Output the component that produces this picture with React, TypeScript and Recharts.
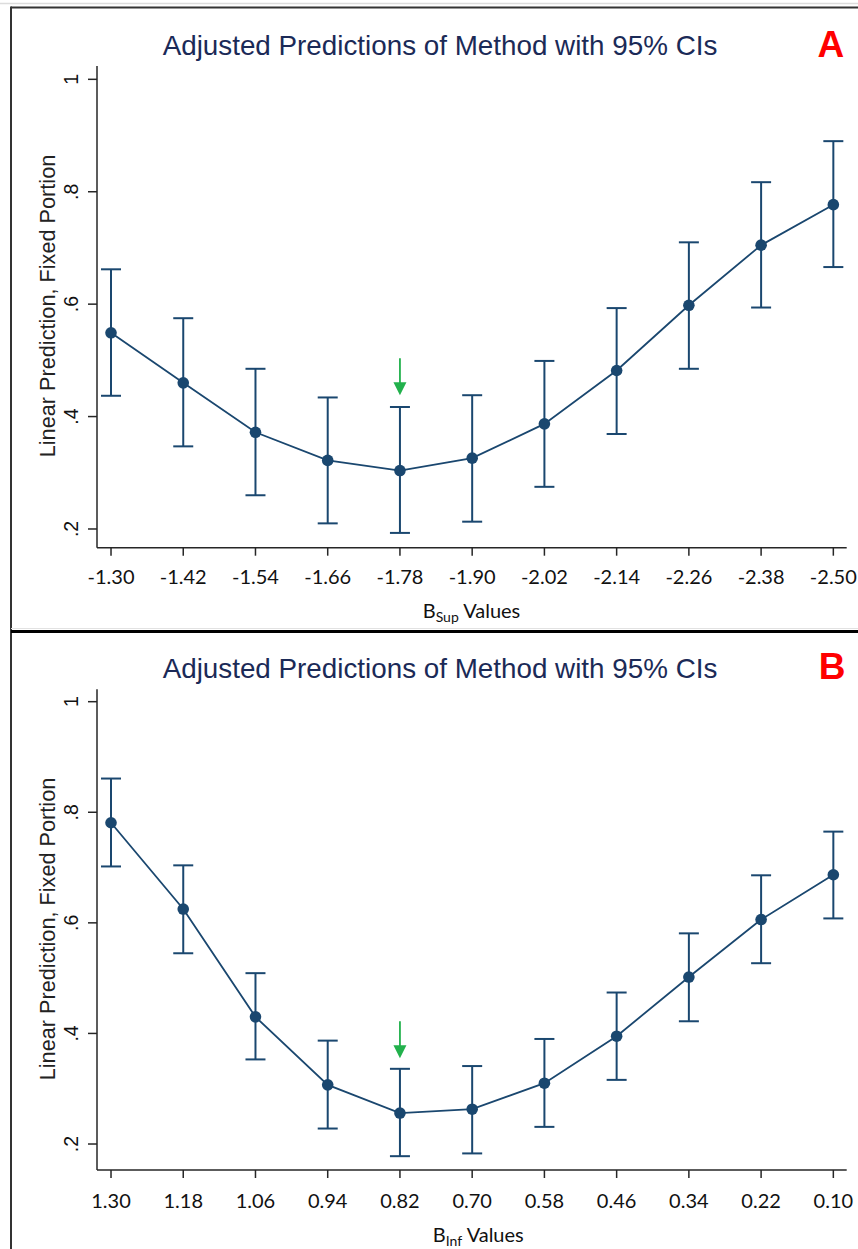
import React from 'react';
import { ComposedChart, Line, XAxis, YAxis, ErrorBar, ReferenceDot } from 'recharts';

// ---------- Data ----------
const categoriesA = ['-1.30', '-1.42', '-1.54', '-1.66', '-1.78', '-1.90', '-2.02', '-2.14', '-2.26', '-2.38', '-2.50'];
const estimateA = [0.549, 0.46, 0.372, 0.322, 0.304, 0.326, 0.387, 0.482, 0.598, 0.705, 0.777];
const lowerA = [0.437, 0.347, 0.26, 0.21, 0.193, 0.213, 0.275, 0.369, 0.485, 0.594, 0.666];
const upperA = [0.662, 0.575, 0.485, 0.434, 0.417, 0.438, 0.499, 0.593, 0.71, 0.817, 0.89];

const categoriesB = ['1.30', '1.18', '1.06', '0.94', '0.82', '0.70', '0.58', '0.46', '0.34', '0.22', '0.10'];
const estimateB = [0.781, 0.625, 0.43, 0.307, 0.256, 0.263, 0.31, 0.395, 0.502, 0.606, 0.687];
const lowerB = [0.702, 0.545, 0.353, 0.228, 0.178, 0.183, 0.231, 0.316, 0.422, 0.527, 0.608];
const upperB = [0.861, 0.704, 0.509, 0.387, 0.336, 0.341, 0.39, 0.474, 0.581, 0.686, 0.765];

const yTicks = [0.2, 0.4, 0.6, 0.8, 1];
const yTickLabels = ['.2', '.4', '.6', '.8', '1'];

const markedIndex = 4; // green arrow category
const arrowTipA = 0.438;
const arrowTipB = 0.355;

const titleText = 'Adjusted Predictions of Method with 95% CIs';
const yLabelText = 'Linear Prediction, Fixed Portion';

// ---------- Styles ----------
const NAVY = '#1a476f';
const AXIS = '#262626';
const GREEN = '#22b14c';
const TITLE_COLOR = '#1b2a57';

const ArrowShape = (props: any) => {
  const { cx, cy } = props;
  if (cx == null || cy == null) return <g />;
  return (
    <g>
      <line x1={cx} y1={cy - 37} x2={cx} y2={cy - 12} stroke={GREEN} strokeWidth={1.8} />
      <polygon points={`${cx - 6.5},${cy - 13} ${cx + 6.5},${cy - 13} ${cx},${cy}`} fill={GREEN} />
    </g>
  );
};

function Panel(props: any) {
  const { categories, estimate, lower, upper, arrowTip, height, plotTop, plotBottom, yDomain, xTickOffset } = props;
  const data = estimate.map((v: number, i: number) => ({
    idx: i,
    y: v,
    err: [v - lower[i], upper[i] - v],
  }));
  const xTicks = categories.map((_: string, i: number) => i);

  const XTick = (p: any) => (
    <text
      x={p.x}
      y={p.y + xTickOffset}
      textAnchor="middle"
      fontFamily="Lato, 'Open Sans', sans-serif"
      fontSize={20}
      fill="#111"
    >
      {categories[p.payload.value]}
    </text>
  );

  const YTick = (p: any) => {
    const bx = 78.5;
    const idx = yTicks.indexOf(p.payload.value);
    return (
      <text
        x={bx}
        y={p.y}
        transform={`rotate(-90 ${bx} ${p.y})`}
        textAnchor="middle"
        fontFamily="'Liberation Sans', Arial, sans-serif"
        fontSize={19.5}
        fill="#111"
      >
        {idx >= 0 ? yTickLabels[idx] : ''}
      </text>
    );
  };

  return (
    <ComposedChart
      width={858}
      height={height}
      data={data}
      margin={{ top: plotTop, right: 11.3, bottom: 0, left: 0 }}
    >
      <XAxis
        type="number"
        dataKey="idx"
        domain={[-0.194, 10.185]}
        ticks={xTicks}
        interval={0}
        allowDataOverflow
        height={height - plotBottom}
        tickSize={8}
        tickMargin={0}
        axisLine={{ stroke: AXIS, strokeWidth: 1.5 }}
        tickLine={{ stroke: AXIS, strokeWidth: 1.5 }}
        tick={XTick}
      />
      <YAxis
        type="number"
        domain={yDomain}
        ticks={yTicks}
        interval={0}
        allowDataOverflow
        width={97}
        tickSize={9}
        tickMargin={0}
        axisLine={{ stroke: AXIS, strokeWidth: 1.5 }}
        tickLine={{ stroke: AXIS, strokeWidth: 1.5 }}
        tick={YTick}
      />
      <Line
        type="linear"
        dataKey="y"
        stroke={NAVY}
        strokeWidth={1.8}
        dot={{ r: 5.8, fill: NAVY, stroke: NAVY, strokeWidth: 0 }}
        activeDot={false}
        isAnimationActive={false}
      >
        <ErrorBar dataKey="err" width={10} strokeWidth={2} stroke={NAVY} direction="y" isAnimationActive={false} />
      </Line>
      <ReferenceDot x={markedIndex} y={arrowTip} r={0} shape={ArrowShape} ifOverflow="visible" />
    </ComposedChart>
  );
}

export default function App() {
  return (
    <div style={{ position: 'absolute', left: 0, top: 0, width: 858, height: 1249, background: '#fff', overflow: 'hidden' }}>
      <div style={{ position: 'absolute', left: 0, top: 0 }}>
        <Panel
          categories={categoriesA}
          estimate={estimateA}
          lower={lowerA}
          upper={upperA}
          arrowTip={arrowTipA}
          height={630}
          plotTop={66}
          plotBottom={547.7}
          yDomain={[0.1667, 1.0237]}
          xTickOffset={27.8}
        />
      </div>
      <div style={{ position: 'absolute', left: 0, top: 630 }}>
        <Panel
          categories={categoriesB}
          estimate={estimateB}
          lower={lowerB}
          upper={upperB}
          arrowTip={arrowTipB}
          height={619}
          plotTop={59.3}
          plotBottom={540}
          yDomain={[0.153, 1.0224]}
          xTickOffset={30.3}
        />
      </div>
      <svg width={858} height={1249} style={{ position: 'absolute', left: 0, top: 0, pointerEvents: 'none' }}>
        {/* frame */}
        <line x1={0} y1={3.5} x2={858} y2={3.5} stroke="#dcdcdc" strokeWidth={1.5} />
        <line x1={11} y1={7.5} x2={858} y2={7.5} stroke="#333" strokeWidth={2} />
        <line x1={11} y1={6.5} x2={11} y2={1249} stroke="#333" strokeWidth={2} />
        <line x1={11} y1={628.5} x2={858} y2={628.5} stroke="#e2e2e2" strokeWidth={1} />
        <line x1={11} y1={631.5} x2={858} y2={631.5} stroke="#000" strokeWidth={3} />

        {/* titles */}
        <text x={440} y={55} textAnchor="middle" fontFamily="'Liberation Sans', Arial, sans-serif" fontSize={27.8} fill={TITLE_COLOR}>
          {titleText}
        </text>
        <text x={440} y={678.3} textAnchor="middle" fontFamily="'Liberation Sans', Arial, sans-serif" fontSize={27.8} fill={TITLE_COLOR}>
          {titleText}
        </text>
        <text x={830.8} y={56.7} textAnchor="middle" fontFamily="'Liberation Sans', Arial, sans-serif" fontWeight="bold" fontSize={37} fill="#ff0000">
          A
        </text>
        <text x={832} y={679.3} textAnchor="middle" fontFamily="'Liberation Sans', Arial, sans-serif" fontWeight="bold" fontSize={37} fill="#ff0000">
          B
        </text>

        {/* y labels */}
        <text x={55} y={306} transform="rotate(-90 55 306)" textAnchor="middle" fontFamily="'Liberation Sans', Arial, sans-serif" fontSize={21.7} fill="#222">
          {yLabelText}
        </text>
        <text x={55} y={929} transform="rotate(-90 55 929)" textAnchor="middle" fontFamily="'Liberation Sans', Arial, sans-serif" fontSize={21.7} fill="#222">
          {yLabelText}
        </text>

        {/* x labels */}
        <text x={471.5} y={618.3} textAnchor="middle" fontFamily="Lato, 'Open Sans', sans-serif" fontSize={20} fill="#111">
          B<tspan fontSize={14} dy={4}>Sup</tspan>
          <tspan dy={-4}> Values</tspan>
        </text>
        <text x={478.3} y={1241.7} textAnchor="middle" fontFamily="Lato, 'Open Sans', sans-serif" fontSize={20} fill="#111">
          B<tspan fontSize={14} dy={4}>Inf</tspan>
          <tspan dy={-4}> Values</tspan>
        </text>
      </svg>
    </div>
  );
}
